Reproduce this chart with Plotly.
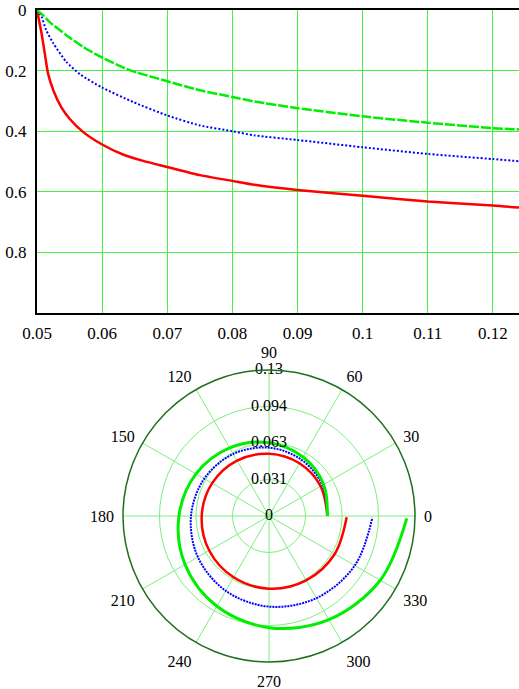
import plotly.graph_objects as go

# ---------- Cartesian chart data ----------
red_x = [0.05, 0.0504, 0.0507, 0.0512, 0.0517, 0.0525, 0.0537, 0.055, 0.0571, 0.06,
         0.0632, 0.0663, 0.07, 0.075, 0.08, 0.0834, 0.09, 0.1, 0.11, 0.12, 0.124]
red_y = [0.0, 0.044, 0.077, 0.144, 0.21, 0.265, 0.32, 0.359, 0.403, 0.444,
         0.477, 0.498, 0.518, 0.545, 0.564, 0.577, 0.594, 0.613, 0.632, 0.645, 0.652]

blue_x = [0.05, 0.0507, 0.0514, 0.0525, 0.0545, 0.0566, 0.06, 0.0648, 0.07, 0.075,
          0.08, 0.0834, 0.09, 0.1, 0.11, 0.12, 0.124]
blue_y = [0.0, 0.022, 0.066, 0.11, 0.171, 0.212, 0.256, 0.304, 0.348, 0.381,
          0.40, 0.414, 0.429, 0.453, 0.475, 0.492, 0.499]

green_x = [0.05, 0.0509, 0.0519, 0.0545, 0.0571, 0.06, 0.0643, 0.07, 0.075, 0.08,
           0.0834, 0.09, 0.1, 0.11, 0.12, 0.124]
green_y = [0.0, 0.017, 0.039, 0.083, 0.122, 0.157, 0.199, 0.235, 0.265, 0.287,
           0.302, 0.324, 0.351, 0.372, 0.39, 0.394]

x_ticks = [0.05, 0.06, 0.07, 0.08, 0.09, 0.1, 0.11, 0.12]
x_tick_text = ["0.05", "0.06", "0.07", "0.08", "0.09", "0.1", "0.11", "0.12"]
y_ticks = [0, 0.2, 0.4, 0.6, 0.8]
y_tick_text = ["0", "0.2", "0.4", "0.6", "0.8"]

# ---------- Polar chart data ----------
polar_theta = [0, 30, 60, 90, 120, 150, 180, 210, 240, 270, 300, 330, 359]
red_r = [0.0500, 0.0510, 0.0521, 0.0533, 0.0547, 0.0562, 0.0576, 0.0591, 0.0606,
         0.0622, 0.0636, 0.0650, 0.0665]
blue_r = [0.0500, 0.0528, 0.0556, 0.0585, 0.0613, 0.0640, 0.0668, 0.0703, 0.0740,
          0.0776, 0.0812, 0.0848, 0.0885]
green_r = [0.0500, 0.0540, 0.0583, 0.0628, 0.0674, 0.0722, 0.0771, 0.0830, 0.0892,
           0.0956, 0.1025, 0.1100, 0.1180]

r_ticks = [0, 0.03125, 0.0625, 0.09375, 0.125]
r_tick_text = ["0", "0.031", "0.063", "0.094", "0.13"]
angle_ticks = [0, 30, 60, 90, 120, 150, 180, 210, 240, 270, 300, 330]
angle_tick_text = [str(a) for a in angle_ticks]

FONT = "'Liberation Serif', 'Times New Roman', serif"
GRID = "#44f044"
PGRID = "#7cf07c"
RED, BLUE, GREEN = "#ff0000", "#0000ff", "#00ee00"

fig = go.Figure()

fig.add_trace(go.Scatter(x=red_x, y=red_y, mode="lines", line=dict(color=RED, width=2.5, shape="spline", smoothing=0.6)))
fig.add_trace(go.Scatter(x=blue_x, y=blue_y, mode="lines", line=dict(color=BLUE, width=2, dash="2px,2px", shape="spline", smoothing=0.6)))
fig.add_trace(go.Scatter(x=green_x, y=green_y, mode="lines", line=dict(color=GREEN, width=2.5, dash="10px,2px", shape="spline", smoothing=0.6)))

fig.add_trace(go.Scatterpolar(r=red_r, theta=polar_theta, mode="lines",
                              line=dict(color=RED, width=2.5, shape="spline")))
fig.add_trace(go.Scatterpolar(r=blue_r, theta=polar_theta, mode="lines",
                              line=dict(color=BLUE, width=2, dash="2px,1px", shape="spline")))
fig.add_trace(go.Scatterpolar(r=green_r, theta=polar_theta, mode="lines",
                              line=dict(color=GREEN, width=3, shape="spline")))
fig.add_trace(go.Scatterpolar(r=r_ticks, theta=[90] * len(r_ticks), mode="text",
                              text=r_tick_text, textposition="middle center",
                              textfont=dict(family=FONT, size=16, color="black")))

W, H = 519, 689
ml, mt, mb = 37, 10, 0
ph = H - mt - mb
pw = W - ml

def py(pix):
    return 1 - (pix - mt) / ph

def px(pix):
    return (pix - ml) / pw

fig.update_layout(
    width=W, height=H,
    margin=dict(l=ml, r=0, t=mt, b=mb, autoexpand=False),
    paper_bgcolor="white", plot_bgcolor="white",
    showlegend=False,
    font=dict(family=FONT, size=17, color="black"),
    xaxis=dict(domain=[0, 1], range=[0.05, 0.124], tickvals=x_ticks, ticktext=x_tick_text,
               showgrid=True, gridcolor=GRID, gridwidth=1, zeroline=False,
               showline=True, linecolor="black", linewidth=2, mirror=True,
               ticks="", automargin=False, ticklabelstandoff=4,
               tickfont=dict(family=FONT, size=17, color="black")),
    yaxis=dict(domain=[py(313), 1], range=[1, 0], tickvals=y_ticks, ticktext=y_tick_text,
               showgrid=True, gridcolor=GRID, gridwidth=1, zeroline=False,
               showline=True, linecolor="black", linewidth=2,
               ticks="", automargin=False, ticklabelstandoff=5,
               tickfont=dict(family=FONT, size=17, color="black")),
    polar=dict(
        domain=dict(x=[px(123), px(415)], y=[py(662), py(370)]),
        bgcolor="white",
        radialaxis=dict(range=[0, r_ticks[-1]], tickvals=r_ticks, showticklabels=False,
                        showgrid=True, gridcolor=PGRID, gridwidth=1, showline=False, ticks=""),
        angularaxis=dict(tickvals=angle_ticks, ticktext=angle_tick_text,
                         direction="counterclockwise", rotation=0,
                         showgrid=True, gridcolor=PGRID, gridwidth=1,
                         showline=True, linecolor="#1f6e1f", linewidth=1.5,
                         ticks="outside", ticklen=5, tickcolor="rgba(0,0,0,0)",
                         tickfont=dict(family=FONT, size=16, color="black")),
    ),
)

fig.write_html("out.html", config={"displayModeBar": False},
               post_script="document.body.style.margin='0';")
